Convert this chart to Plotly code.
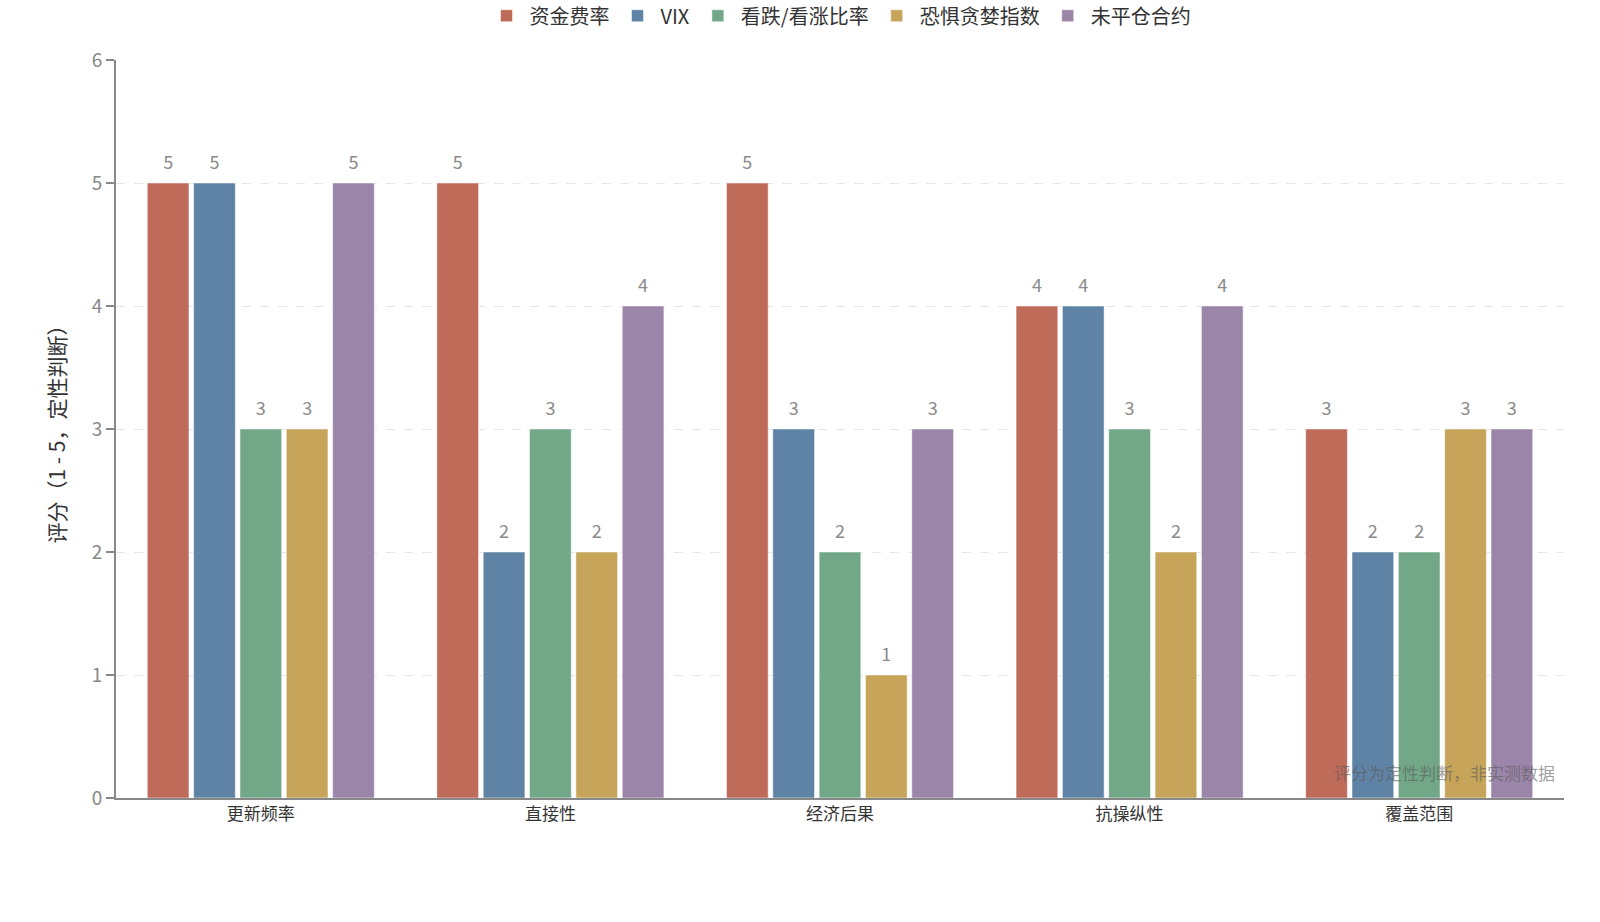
import plotly.graph_objects as go

# 评价维度
categories = ["更新频率", "直接性", "经济后果", "抗操纵性", "覆盖范围"]

# 各指标得分
series_names = ["资金费率", "VIX", "看跌/看涨比率", "恐惧贪婪指数", "未平仓合约"]
funding_rate = [5, 5, 5, 4, 3]
vix = [5, 2, 3, 4, 2]
put_call = [3, 3, 2, 3, 2]
fear_greed = [3, 2, 1, 2, 3]
open_interest = [5, 4, 3, 4, 3]

y_ticks = [0, 1, 2, 3, 4, 5, 6]

colors = ["#BF6B5A", "#5F83A5", "#72A888", "#C6A55B", "#9B85A9"]
font_family = "Noto Sans CJK SC, Noto Sans, sans-serif"

all_values = [funding_rate, vix, put_call, fear_greed, open_interest]

fig = go.Figure()
for i, (name, values, color) in enumerate(zip(series_names, all_values, colors)):
    fig.add_trace(go.Bar(
        name=name,
        x=categories,
        y=values,
        offsetgroup=str(i),
        marker=dict(color=color, line=dict(color="rgba(255,255,255,0.5)", width=1)),
        hovertemplate=name + ": %{y}<extra></extra>",
    ))

# 数值标签（与柱子同组对齐）
for i, (name, values) in enumerate(zip(series_names, all_values)):
    fig.add_trace(go.Scatter(
        x=categories,
        y=values,
        offsetgroup=str(i),
        mode="markers+text",
        marker=dict(size=14, opacity=0),
        text=values,
        textposition="top center",
        textfont=dict(size=18, color="#8a8a8a", family=font_family),
        showlegend=False,
        hoverinfo="skip",
        cliponaxis=False,
    ))

fig.update_layout(
    width=1600,
    height=922,
    barmode="group",
    scattermode="group",
    bargap=0.2,
    bargroupgap=0.1,
    plot_bgcolor="white",
    paper_bgcolor="white",
    font=dict(family=font_family, color="#333333"),
    margin=dict(l=116, r=36, t=60, b=124, autoexpand=False),
    legend=dict(
        orientation="h",
        x=0.5, xanchor="center",
        y=1.06, yanchor="middle",
        font=dict(size=20, color="#333333"),
        itemwidth=36,
    ),
)

fig.update_yaxes(
    range=[0, 6],
    tickvals=y_ticks,
    showgrid=True,
    gridcolor="#e6e6e6",
    griddash="dash",
    showline=True,
    linecolor="#888888",
    linewidth=2,
    ticks="outside",
    ticklen=8,
    tickcolor="#888888",
    tickwidth=2,
    tickfont=dict(size=19, color="#888888"),
    zeroline=False,
    title=dict(text="评分（1 - 5，定性判断）", font=dict(size=21, color="#333333"), standoff=20),
)

fig.update_xaxes(
    showline=True,
    linecolor="#888888",
    linewidth=2,
    ticks="",
    tickfont=dict(size=17, color="#333333"),
)

fig.add_annotation(
    text="评分为定性判断，非实测数据",
    xref="paper", yref="paper",
    x=0.995, y=0.034,
    xanchor="right", yanchor="middle",
    showarrow=False,
    font=dict(size=17, color="rgba(90,90,90,0.6)"),
)

fig.write_html(
    "out.html",
    config={"displayModeBar": False},
    post_script="document.body.style.margin='0';document.body.style.overflow='hidden';",
)
